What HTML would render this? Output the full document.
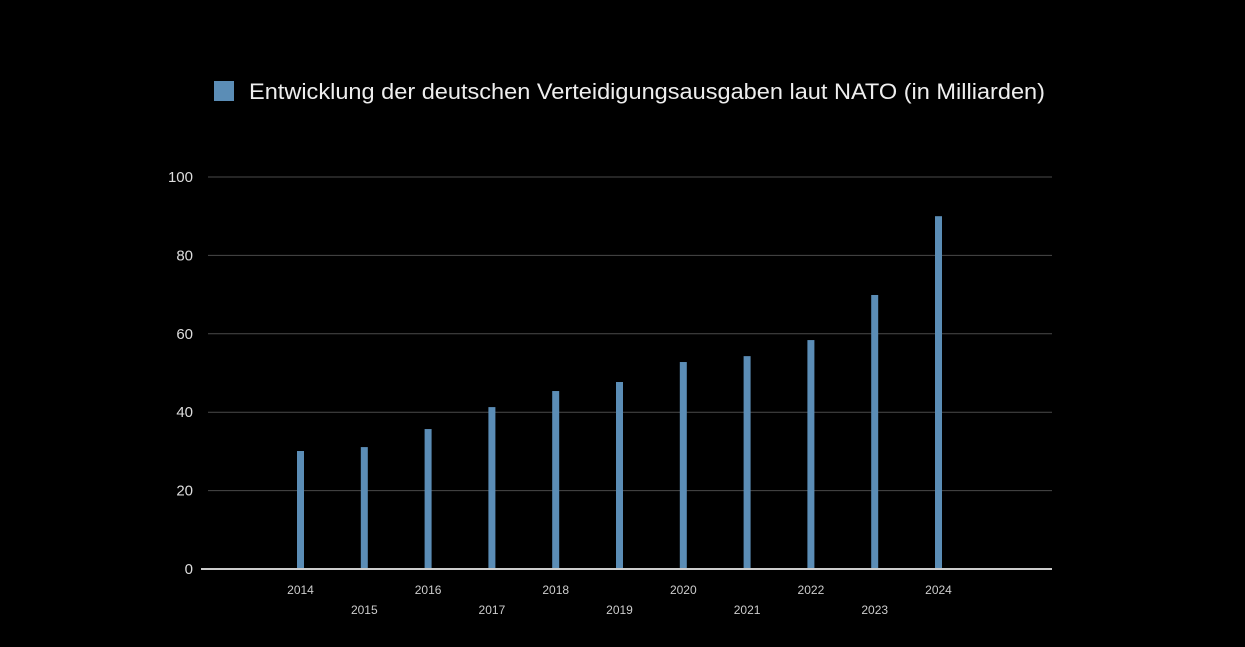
<!DOCTYPE html>
<html><head><meta charset="utf-8"><style>
html,body{margin:0;padding:0;background:#000;}
svg{display:block;font-family:"Liberation Sans",sans-serif;}
</style></head><body>
<svg id="chart" width="1245" height="647">
<rect width="1245" height="647" fill="#000"/>
<g>
<rect x="214" y="81" width="20" height="20" fill="#5b8db6"/>
<text x="249" y="99" fill="#eee" font-size="22" textLength="796" lengthAdjust="spacingAndGlyphs">Entwicklung der deutschen Verteidigungsausgaben laut NATO (in Milliarden)</text>
</g>
<g id="grid"></g><g id="bars"></g><g id="xlabels"></g>
</svg>
<script>
const years = ['2014','2015','2016','2017','2018','2019','2020','2021','2022','2023','2024'];
const values = [30.1, 31.1, 35.7, 41.3, 45.4, 47.7, 52.8, 54.3, 58.4, 69.9, 90.0];
const yTicks = [0, 20, 40, 60, 80, 100];
const NS='http://www.w3.org/2000/svg';
const x0=200,x1=1052,y0=569,yTop=177,yMax=100;
const y=v=>y0-(v/yMax)*(y0-yTop);
const step=63.8, firstX=300.5;
const x=i=>firstX+i*step;
function mk(t,a,p){const e=document.createElementNS(NS,t);for(const k in a)e.setAttribute(k,a[k]);p.appendChild(e);return e;}
const grid=document.getElementById('grid'),bars=document.getElementById('bars'),xl=document.getElementById('xlabels');
yTicks.forEach(v=>{
  if(v>0){const l=mk('line',{x1:x0+8,x2:x1,y1:y(v),y2:y(v),stroke:'#4a4a4a','stroke-width':1},grid);
  
  }
  const t=mk('text',{x:193,y:y(v)+5,fill:'#ddd','font-size':15,'text-anchor':'end'},grid);
  t.textContent=v;
  
  
});
years.forEach((yr,i)=>{
  const b=mk('rect',{x:x(i)-3.5,y:y(values[i]),width:7,height:y0-y(values[i]),fill:'#5b8db6'},bars);
  
  
  const t=mk('text',{x:x(i),y:i%2?614:594,fill:'#ccc','font-size':12,'text-anchor':'middle'},xl);
  t.textContent=yr;
  
  
});
const ax=mk('line',{x1:x0+1,x2:x1,y1:y0,y2:y0,stroke:'#ccc','stroke-width':2},xl);


</script>
</body></html>
